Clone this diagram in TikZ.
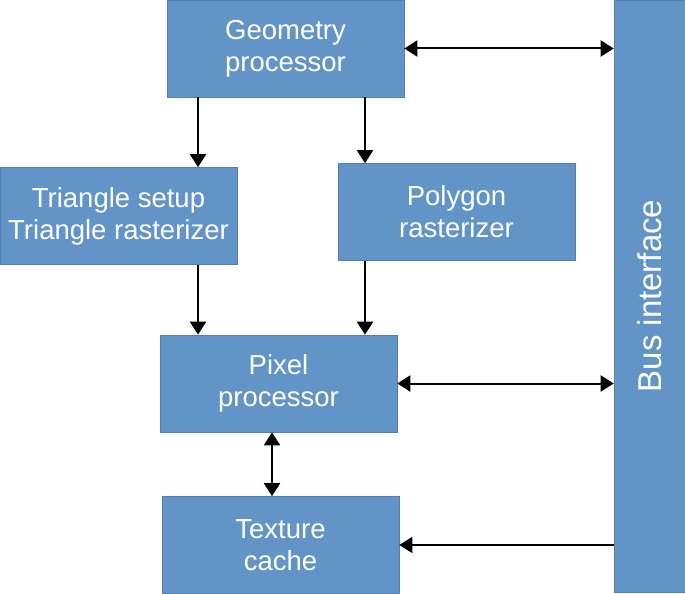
\documentclass[tikz,border=0pt]{standalone}
\usepackage{fontspec}
\setmainfont{Liberation Sans}
\usetikzlibrary{arrows.meta,calc}
\definecolor{bc}{RGB}{98,148,200}
\definecolor{ec}{RGB}{80,128,182}
\tikzset{blk/.style={draw=ec,line width=.6pt,fill=bc,text=white,align=center,
   minimum width=237pt,minimum height=97pt,inner sep=0pt,font=\fontsize{27.5}{32}\selectfont},
 wire/.style={line width=2pt,{Triangle[length=13pt,width=16pt]}-{Triangle[length=13pt,width=16pt]}},
 arr/.style={line width=2pt,-{Triangle[length=13pt,width=16pt]}},
 tarr/.style={line width=1.2pt,-{Triangle[length=13pt,width=16pt]}}}
\begin{document}
\begin{tikzpicture}[x=1pt,y=-1pt]
\useasboundingbox (0,0) rectangle (685,594);
\node[blk] (geo) at (285.5,48.5) {Geometry\\processor};
\node[blk] (tri) at (118.5,216) {Triangle setup\\Triangle rasterizer};
\node[blk] (poly) at (456.5,212) {Polygon\\rasterizer};
\node[blk] (pix) at (278.5,383.5) {Pixel\\processor};
\node[blk] (tex) at (280.5,545) {Texture\\cache};
\node[blk,minimum width=71pt,minimum height=592pt] (bus) at (649.5,296) {};
\node[text=white,rotate=90,font=\fontsize{33}{38}\selectfont] (busl) at (bus.center) {Bus interface};
\coordinate (cl) at (198,0);\coordinate (cr) at (365,0);\coordinate (cm) at (272,0);
\foreach \a/\b/\c in {geo/tri/cl,geo/poly/cr,tri/pix/cl,poly/pix/cr}{\draw[arr] (\a.south -| \c)--(\b.north -| \c);}
\draw[wire] (pix.south -| cm)--(tex.north -| cm);
\draw[wire] (geo.east)--(geo.east -| bus.west);
\draw[wire] (pix.east)--(pix.east -| bus.west);
\draw[tarr] (tex.east -| bus.west)--(tex.east);
\end{tikzpicture}
\end{document}
